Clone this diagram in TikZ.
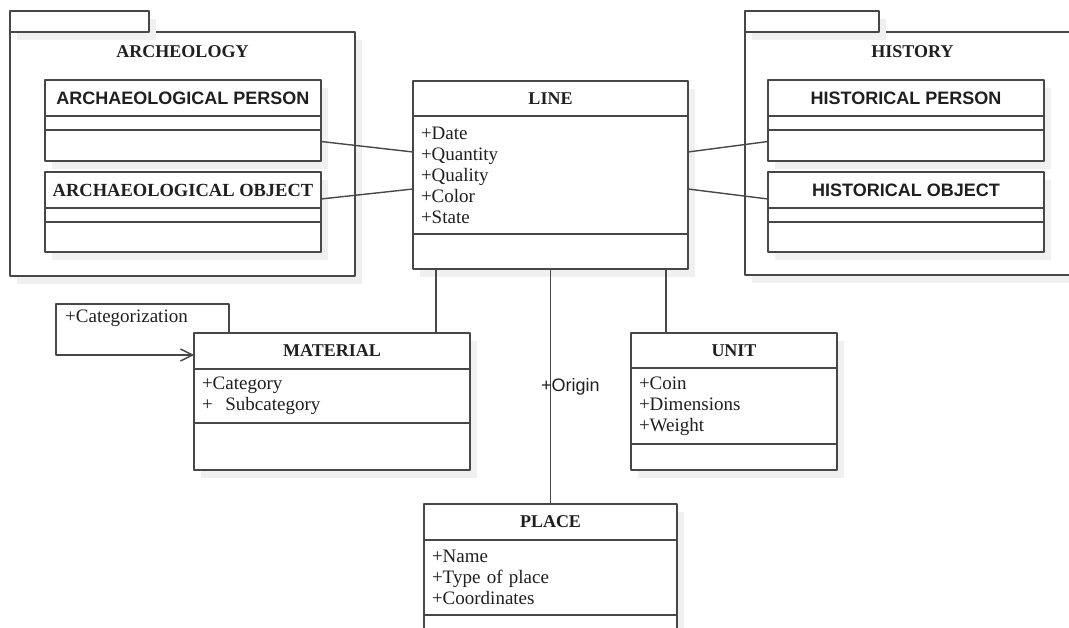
\documentclass[tikz,border=0pt]{standalone}
\usepackage{fontspec}
\setmainfont{Liberation Serif}
\setsansfont{Liberation Sans}
\usetikzlibrary{positioning,shadows,arrows.meta}

\begin{document}
\begin{tikzpicture}[line join = round, line cap = round, x=1pt, y=-1pt,
	>={Straight Barb[length=12pt,width=12pt]}]
	\tikzset{
		umlbox/.style={draw=black!72, line width=1.4pt, fill=white, outer sep=0pt, inner sep=0pt,
			text=black!88, drop shadow={shadow xshift=7pt, shadow yshift=-8pt, fill=black!6, opacity=1}},
		classhead/.style={umlbox, minimum height=36, font=\fontsize{18}{21}\selectfont\bfseries},
		sanshead/.style={classhead, font=\fontsize{18}{21}\selectfont\sffamily\bfseries},
		classattr/.style={umlbox, align=left, inner xsep=8pt, font=\fontsize{19}{21}\selectfont},
		pkgtitle/.style={text=black!88, font=\fontsize{18}{21}\selectfont\bfseries},
		assoc/.style={draw=black!72, line width=1.4pt}
	}
	\useasboundingbox (0,0) rectangle (1069,628);

	% packages
	\node[umlbox, minimum width=345, minimum height=244, anchor=north west] (arch-pkg) at (10,32) {};
	\node[umlbox, minimum width=139, minimum height=21, anchor=south west] (arch-tab) at (arch-pkg.north west) {};
	\node[pkgtitle] (arch-title) at ([yshift=-20pt]arch-pkg.north) {ARCHEOLOGY};

	\node[umlbox, minimum width=335, minimum height=243, anchor=north west] (hist-pkg) at (745,32) {};
	\node[umlbox, minimum width=134, minimum height=21, anchor=south west] (hist-tab) at (hist-pkg.north west) {};
	\node[pkgtitle] (hist-title) at ([yshift=-20pt]hist-pkg.north) {HISTORY};

	% classes inside the packages
	\node[sanshead, minimum width=276, anchor=north west] (ap-h) at (45,80) {ARCHAEOLOGICAL PERSON};
	\node[umlbox, minimum width=276, minimum height=14, below=0pt of ap-h] (ap-a) {};
	\node[umlbox, minimum width=276, minimum height=31, below=0pt of ap-a] (ap-o) {};

	\node[classhead, minimum width=276, anchor=north west, font=\fontsize{18.5}{21}\selectfont\bfseries] (ao-h) at (45,172) {ARCHAEOLOGICAL OBJECT};
	\node[umlbox, minimum width=276, minimum height=14, below=0pt of ao-h] (ao-a) {};
	\node[umlbox, minimum width=276, minimum height=30, below=0pt of ao-a] (ao-o) {};

	\node[sanshead, minimum width=276, anchor=north west] (hp-h) at (768,80) {HISTORICAL PERSON};
	\node[umlbox, minimum width=276, minimum height=14, below=0pt of hp-h] (hp-a) {};
	\node[umlbox, minimum width=276, minimum height=31, below=0pt of hp-a] (hp-o) {};

	\node[sanshead, minimum width=276, anchor=north west] (ho-h) at (768,172) {HISTORICAL OBJECT};
	\node[umlbox, minimum width=276, minimum height=14, below=0pt of ho-h] (ho-a) {};
	\node[umlbox, minimum width=276, minimum height=30, below=0pt of ho-a] (ho-o) {};

	% central class
	\node[classhead, minimum width=275, minimum height=35, anchor=north west] (line-h) at (413,81) {LINE};
	\node[classattr, text width=259pt, minimum height=118, below=0pt of line-h] (line-a)
		{+Date\\+Quantity\\+Quality\\+Color\\+State};
	\node[umlbox, minimum width=275, minimum height=35, below=0pt of line-a] (line-o) {};

	\node[classhead, minimum width=276, anchor=north west] (mat-h) at (194,333) {MATERIAL};
	\node[classattr, text width=260pt, minimum height=54, below=0pt of mat-h] (mat-a)
		{+Category\\+\ \ Subcategory};
	\node[umlbox, minimum width=276, minimum height=47, below=0pt of mat-a] (mat-o) {};

	\node[classhead, minimum width=206, minimum height=35, anchor=north west] (unit-h) at (631,333) {UNIT};
	\node[classattr, text width=190pt, minimum height=76, below=0pt of unit-h] (unit-a)
		{+Coin\\+Dimensions\\+Weight};
	\node[umlbox, minimum width=206, minimum height=26, below=0pt of unit-a] (unit-o) {};

	\node[classhead, minimum width=253, anchor=north west] (place-h) at (424,504) {PLACE};
	\node[classattr, text width=237pt, minimum height=75, below=0pt of place-h] (place-a)
		{+Name\\+Type of place\\+Coordinates};
	\node[umlbox, minimum width=253, minimum height=30, below=0pt of place-a] (place-o) {};

	% associations
	\draw[assoc] ([yshift=4pt]ap-o.east) -- ([yshift=23pt]line-a.west);
	\draw[assoc] ([yshift=-9pt]ao-h.east) -- ([yshift=-14pt]line-a.west);
	\draw[assoc] ([yshift=23pt]line-a.east) -- ([yshift=4pt]hp-o.west);
	\draw[assoc] ([yshift=-14pt]line-a.east) -- ([yshift=-9pt]ho-h.west);

	\coordinate (mat-link) at ([xshift=-34pt]mat-h.north east);
	\draw[assoc] (mat-link |- line-o.south) -- (mat-link);
	\coordinate (unit-link) at ([xshift=35pt]unit-h.north west);
	\draw[assoc] (unit-link |- line-o.south) -- (unit-link);
	\draw[assoc] (line-o.south) -- (place-h.north)
		node[midway, anchor=west, inner sep=0pt, xshift=-10pt, text=black!88,
			font=\fontsize{18}{21}\selectfont\sffamily] (origin-lbl) {+Origin};

	% self association
	\coordinate (cat-corner) at (56,304);
	\coordinate (cat-start) at ([xshift=35pt]mat-h.north west);
	\draw[assoc, ->] (cat-start) |- (cat-corner) |- ([yshift=-4pt]mat-h.west);
	\node[anchor=west, inner sep=0pt, text=black!88, font=\fontsize{19}{21}\selectfont]
		(cat-lbl) at ([xshift=9pt,yshift=-14pt]cat-corner) {+Categorization};
\end{tikzpicture}
\end{document}
